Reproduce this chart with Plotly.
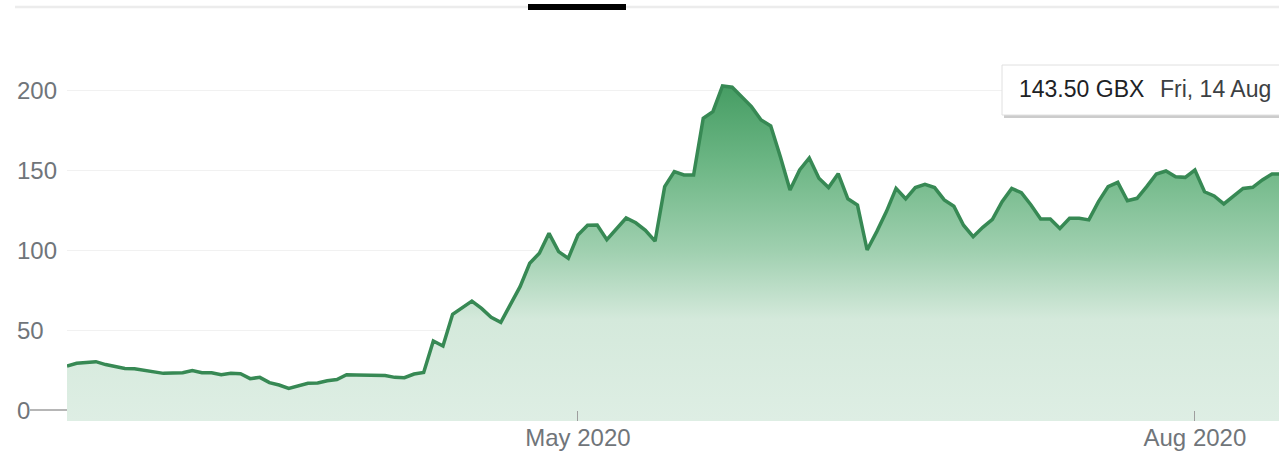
import pandas as pd
import plotly.graph_objects as go

# ---- data -------------------------------------------------------------
uk_holidays = ["2020-04-10", "2020-04-13", "2020-05-08", "2020-05-25"]
trading_days = pd.bdate_range("2020-02-14", "2020-08-14", freq="C", holidays=uk_holidays)
dates = [d.strftime("%Y-%m-%d") for d in trading_days]

prices = [
    27.5, 29.2, 29.7, 30.2, 28.4, 27.0, 26.0, 25.8, 25.0, 23.8,
    22.9, 23.1, 23.3, 24.6, 23.3, 23.3, 22.0, 22.9, 22.7, 19.6,
    20.4, 17.1, 15.6, 13.5, 15.0, 16.7, 16.9, 18.3, 19.0, 22.0,
    21.9, 21.9, 21.8, 21.5, 20.4, 20.2, 22.5, 23.5, 43.1, 40.0,
    59.8, 64.2, 68.1, 63.5, 57.9, 54.8, 65.6, 77.1, 91.7, 98.0,
    110.4, 99.0, 94.8, 109.4, 115.5, 115.6, 106.5, 113.0, 120.0, 117.0,
    112.3, 105.5, 139.6, 149.0, 146.9, 146.9, 182.3, 186.5, 202.5, 201.7,
    196.0, 189.6, 181.3, 177.5, 158.3, 137.5, 150.0, 157.5, 144.8, 139.0,
    147.7, 132.0, 128.1, 100.0, 111.5, 124.0, 138.5, 132.0, 139.0, 141.0,
    139.0, 131.3, 127.3, 115.5, 108.3, 114.2, 119.2, 130.2, 138.5, 135.8,
    128.1, 119.4, 119.4, 113.5, 119.8, 119.8, 118.8, 130.2, 139.6, 142.3,
    130.8, 132.3, 139.6, 147.5, 149.4, 145.8, 145.4, 150.0, 136.4, 133.8,
    128.8, 133.8, 138.5, 139.2, 143.8, 147.5, 147.5,
]
n = min(len(dates), len(prices))
dates = dates[:n]
prices = prices[:n]

x_tick_dates = ["2020-05-01", "2020-08-03"]
x_tick_labels = ["May 2020", "Aug 2020"]
y_ticks = [0, 50, 100, 150, 200]
tooltip_value = "143.50 GBX"
tooltip_date = "Fri, 14 Aug"

# ---- layout geometry --------------------------------------------------
W, H = 1279, 453
ML, MR, MT, MB = 67, 0, 60, 32
PW, PH = W - ML - MR, H - MT - MB
Y_MIN, Y_MAX = -6.875, 218.75
X_MAX = PW / 9.64


def px_x(p):
    return (p - ML) / PW


def px_y(p):
    return (H - MB - p) / PH


LINE = "rgb(55,137,84)"
FONT = "Liberation Sans, Arial, sans-serif"
GREY = "#70757a"

fig = go.Figure()
fig.add_trace(go.Scatter(
    x=dates, y=[Y_MIN] * n, mode="lines", line=dict(width=0),
    hoverinfo="skip", showlegend=False,
))
fig.add_trace(go.Scatter(
    x=dates, y=prices, mode="lines",
    line=dict(color=LINE, width=3.5),
    fill="tonexty",
    fillgradient=dict(
        type="vertical",
        start=Y_MIN, stop=205,
        colorscale=[
            [0.0, "rgb(222,238,228)"],
            [0.3, "rgb(212,233,219)"],
            [0.5, "rgb(160,208,176)"],
            [0.75, "rgb(110,183,134)"],
            [1.0, "rgb(68,156,98)"],
        ],
    ),
    hoverinfo="skip", showlegend=False,
))

annotations = []
for v in y_ticks:
    annotations.append(dict(
        x=px_x(15), xref="paper", y=v, yref="y", text=str(v),
        showarrow=False, xanchor="left", yanchor="middle",
        font=dict(family=FONT, size=24, color=GREY),
    ))

shapes = [
    # zero tick line left of the plot
    dict(type="line", xref="paper", yref="y", x0=px_x(30), x1=0, y0=0, y1=0,
         line=dict(color="#9e9e9e", width=1.5)),
    # top tab strip
    dict(type="line", xref="paper", yref="paper", x0=px_x(15), x1=px_x(1279),
         y0=px_y(7), y1=px_y(7), line=dict(color="#ececec", width=2.5)),
    dict(type="rect", xref="paper", yref="paper", x0=px_x(528), x1=px_x(626),
         y0=px_y(10), y1=px_y(4), line=dict(width=0), fillcolor="#000000"),
    # tooltip shadow + box
    dict(type="rect", xref="paper", yref="paper", x0=px_x(1004), x1=px_x(1285),
         y0=px_y(118), y1=px_y(68), line=dict(width=0), fillcolor="rgba(0,0,0,0.2)"),
    dict(type="rect", xref="paper", yref="paper", x0=px_x(1002), x1=px_x(1285),
         y0=px_y(115), y1=px_y(65), line=dict(color="#e0e0e0", width=1), fillcolor="#ffffff"),
]

annotations.append(dict(
    x=px_x(1017), xref="paper", y=px_y(89), yref="paper", text=tooltip_value,
    showarrow=False, xanchor="left", yanchor="middle",
    font=dict(family=FONT, size=23, color="#202124"),
))
annotations.append(dict(
    x=px_x(1158), xref="paper", y=px_y(89), yref="paper", text=tooltip_date,
    showarrow=False, xanchor="left", yanchor="middle",
    font=dict(family=FONT, size=23, color="#3c4043"),
))

fig.update_layout(
    width=W, height=H,
    margin=dict(l=ML, r=MR, t=MT, b=MB, pad=0),
    paper_bgcolor="white", plot_bgcolor="white",
    showlegend=False,
    xaxis=dict(
        type="category", range=[0, X_MAX],
        tickmode="array", tickvals=x_tick_dates, ticktext=x_tick_labels,
        ticks="inside", ticklen=10, tickcolor="#9e9e9e", tickwidth=1,
        showgrid=False, zeroline=False, showline=False,
        tickfont=dict(family=FONT, size=24, color=GREY),
    ),
    yaxis=dict(
        range=[Y_MIN, Y_MAX], tickmode="array", tickvals=[50, 100, 150, 200],
        showticklabels=False, showgrid=True, gridcolor="#f1f1f1", gridwidth=1,
        zeroline=False, showline=False, ticks="",
    ),
    shapes=shapes,
    annotations=annotations,
)

fig.write_html(
    "out.html",
    config={"displayModeBar": False},
    post_script="document.body.style.margin='0';document.body.style.overflow='hidden';",
)
